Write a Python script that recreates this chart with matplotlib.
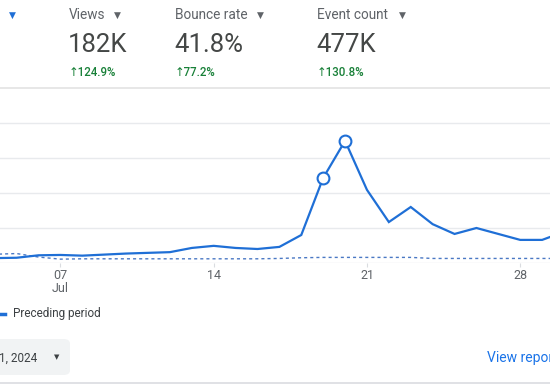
import matplotlib.pyplot as plt
from matplotlib.patches import FancyBboxPatch
from matplotlib.lines import Line2D

plt.rcParams['font.family'] = ['Roboto', 'DejaVu Sans']

# daily values (K), July
days = [3, 4, 5, 6, 7, 8, 9, 10, 11, 12, 13, 14, 15, 16, 17,
        18, 19, 20, 21, 22, 23, 24, 25, 26, 27, 28, 29, 30]
views = [1.5, 1.4, 1.5, 2.2, 2.3, 2.1, 2.4, 2.7, 2.9, 3.1, 4.3, 4.9, 4.3, 4.0, 4.6,
         8.0, 24.3, 34.9, 20.9, 11.7, 16.0, 11.1, 8.3, 10.0, 8.3, 6.6, 6.6, 8.9]
preceding = [2.0, 2.5, 2.7, 1.7, 1.1, 1.2, 1.2, 1.2, 1.2, 1.2, 1.2, 1.2, 1.2, 1.2, 1.3,
             1.5, 1.6, 1.6, 1.6, 1.6, 1.6, 1.3, 1.3, 1.3, 1.3, 1.3, 1.3, 1.3]
marked_days = [19, 20]
tick_days = [7, 14, 21, 28]
tick_labels = ['07\nJul', '14', '21', '28']

metric_names = ['Views', 'Bounce rate', 'Event count']
metric_values = ['182K', '41.8%', '477K']
metric_changes = ['124.9%', '77.2%', '130.8%']
metric_x = [69, 175, 317]
arrow_x = [117, 260, 402]

W, H = 550, 385
fig = plt.figure(figsize=(W / 100, H / 100), dpi=100)


def fx(x):
    return x / W


def fy(y):
    return 1 - y / H


blue = '#1f6fd6'
grey = '#5f6368'

# chart
ax = fig.add_axes([0, fy(263), 1, fy(88) - fy(263)])
ax.plot(days, preceding, color='#4a78c4', lw=1.0, ls=(0, (2.2, 2.2)))
ax.plot(days, views, color=blue, lw=1.6, solid_joinstyle='miter')
mk = [views[days.index(d)] for d in marked_days]
ax.plot(marked_days, mk, 'o', ms=8.5, mfc='white', mec=blue, mew=1.5)
ax.set_xlim(4.24, 29.36)
ax.set_ylim(0, 50)
ax.set_yticks([0, 10, 20, 30, 40])
ax.grid(axis='y', color='#e8eaed', lw=1)
ax.set_xticks(tick_days)
ax.set_xticklabels(tick_labels, fontsize=9, color=grey, linespacing=1.0)
ax.tick_params(axis='x', length=3, color='#dadce0', pad=1.5)
ax.tick_params(axis='y', length=0, labelleft=False)
for s in ax.spines.values():
    s.set_visible(False)

# header
fig.text(fx(12), fy(15), '▼', fontsize=6.5, color=blue, ha='center', va='center')
for i in range(3):
    fig.text(fx(metric_x[i]), fy(15), metric_names[i], fontsize=9.8, color=grey,
             ha='left', va='center')
    fig.text(fx(arrow_x[i]), fy(15), '▼', fontsize=6.5, color=grey, ha='center', va='center')
    fig.text(fx(metric_x[i] - 1), fy(45), metric_values[i], fontsize=18.5,
             color='#444746', ha='left', va='center')
    fig.text(fx(metric_x[i]), fy(72), '↑' + metric_changes[i], fontsize=8.3,
             color='#188038', ha='left', va='center', weight='medium')

fig.add_artist(Line2D([0, 1], [fy(88), fy(88)], color='#e3e3e3', lw=1.2))

# legend
fig.add_artist(Line2D([fx(0), fx(5)], [fy(314), fy(314)], color=blue, lw=2.5))
fig.text(fx(13), fy(314), 'Preceding period', fontsize=8.5, color='#3c4043',
         ha='left', va='center')

# footer
box = FancyBboxPatch((fx(-20), fy(375)), fx(90), fy(339) - fy(375),
                     boxstyle='round,pad=0,rounding_size=0.012',
                     transform=fig.transFigure, facecolor='#f1f3f4', edgecolor='none')
fig.add_artist(box)
fig.text(fx(-1), fy(358), '1, 2024', fontsize=8.5, color='#3c4043', ha='left', va='center')
fig.text(fx(57), fy(358), '▼', fontsize=5, color='#3c4043', ha='center', va='center')
fig.text(fx(487), fy(358), 'View report', fontsize=10, color='#1a73e8',
         ha='left', va='center')
fig.add_artist(Line2D([0, 1], [fy(383), fy(383)], color='#dadce0', lw=1.2))

fig.savefig('out.png', dpi=100)
